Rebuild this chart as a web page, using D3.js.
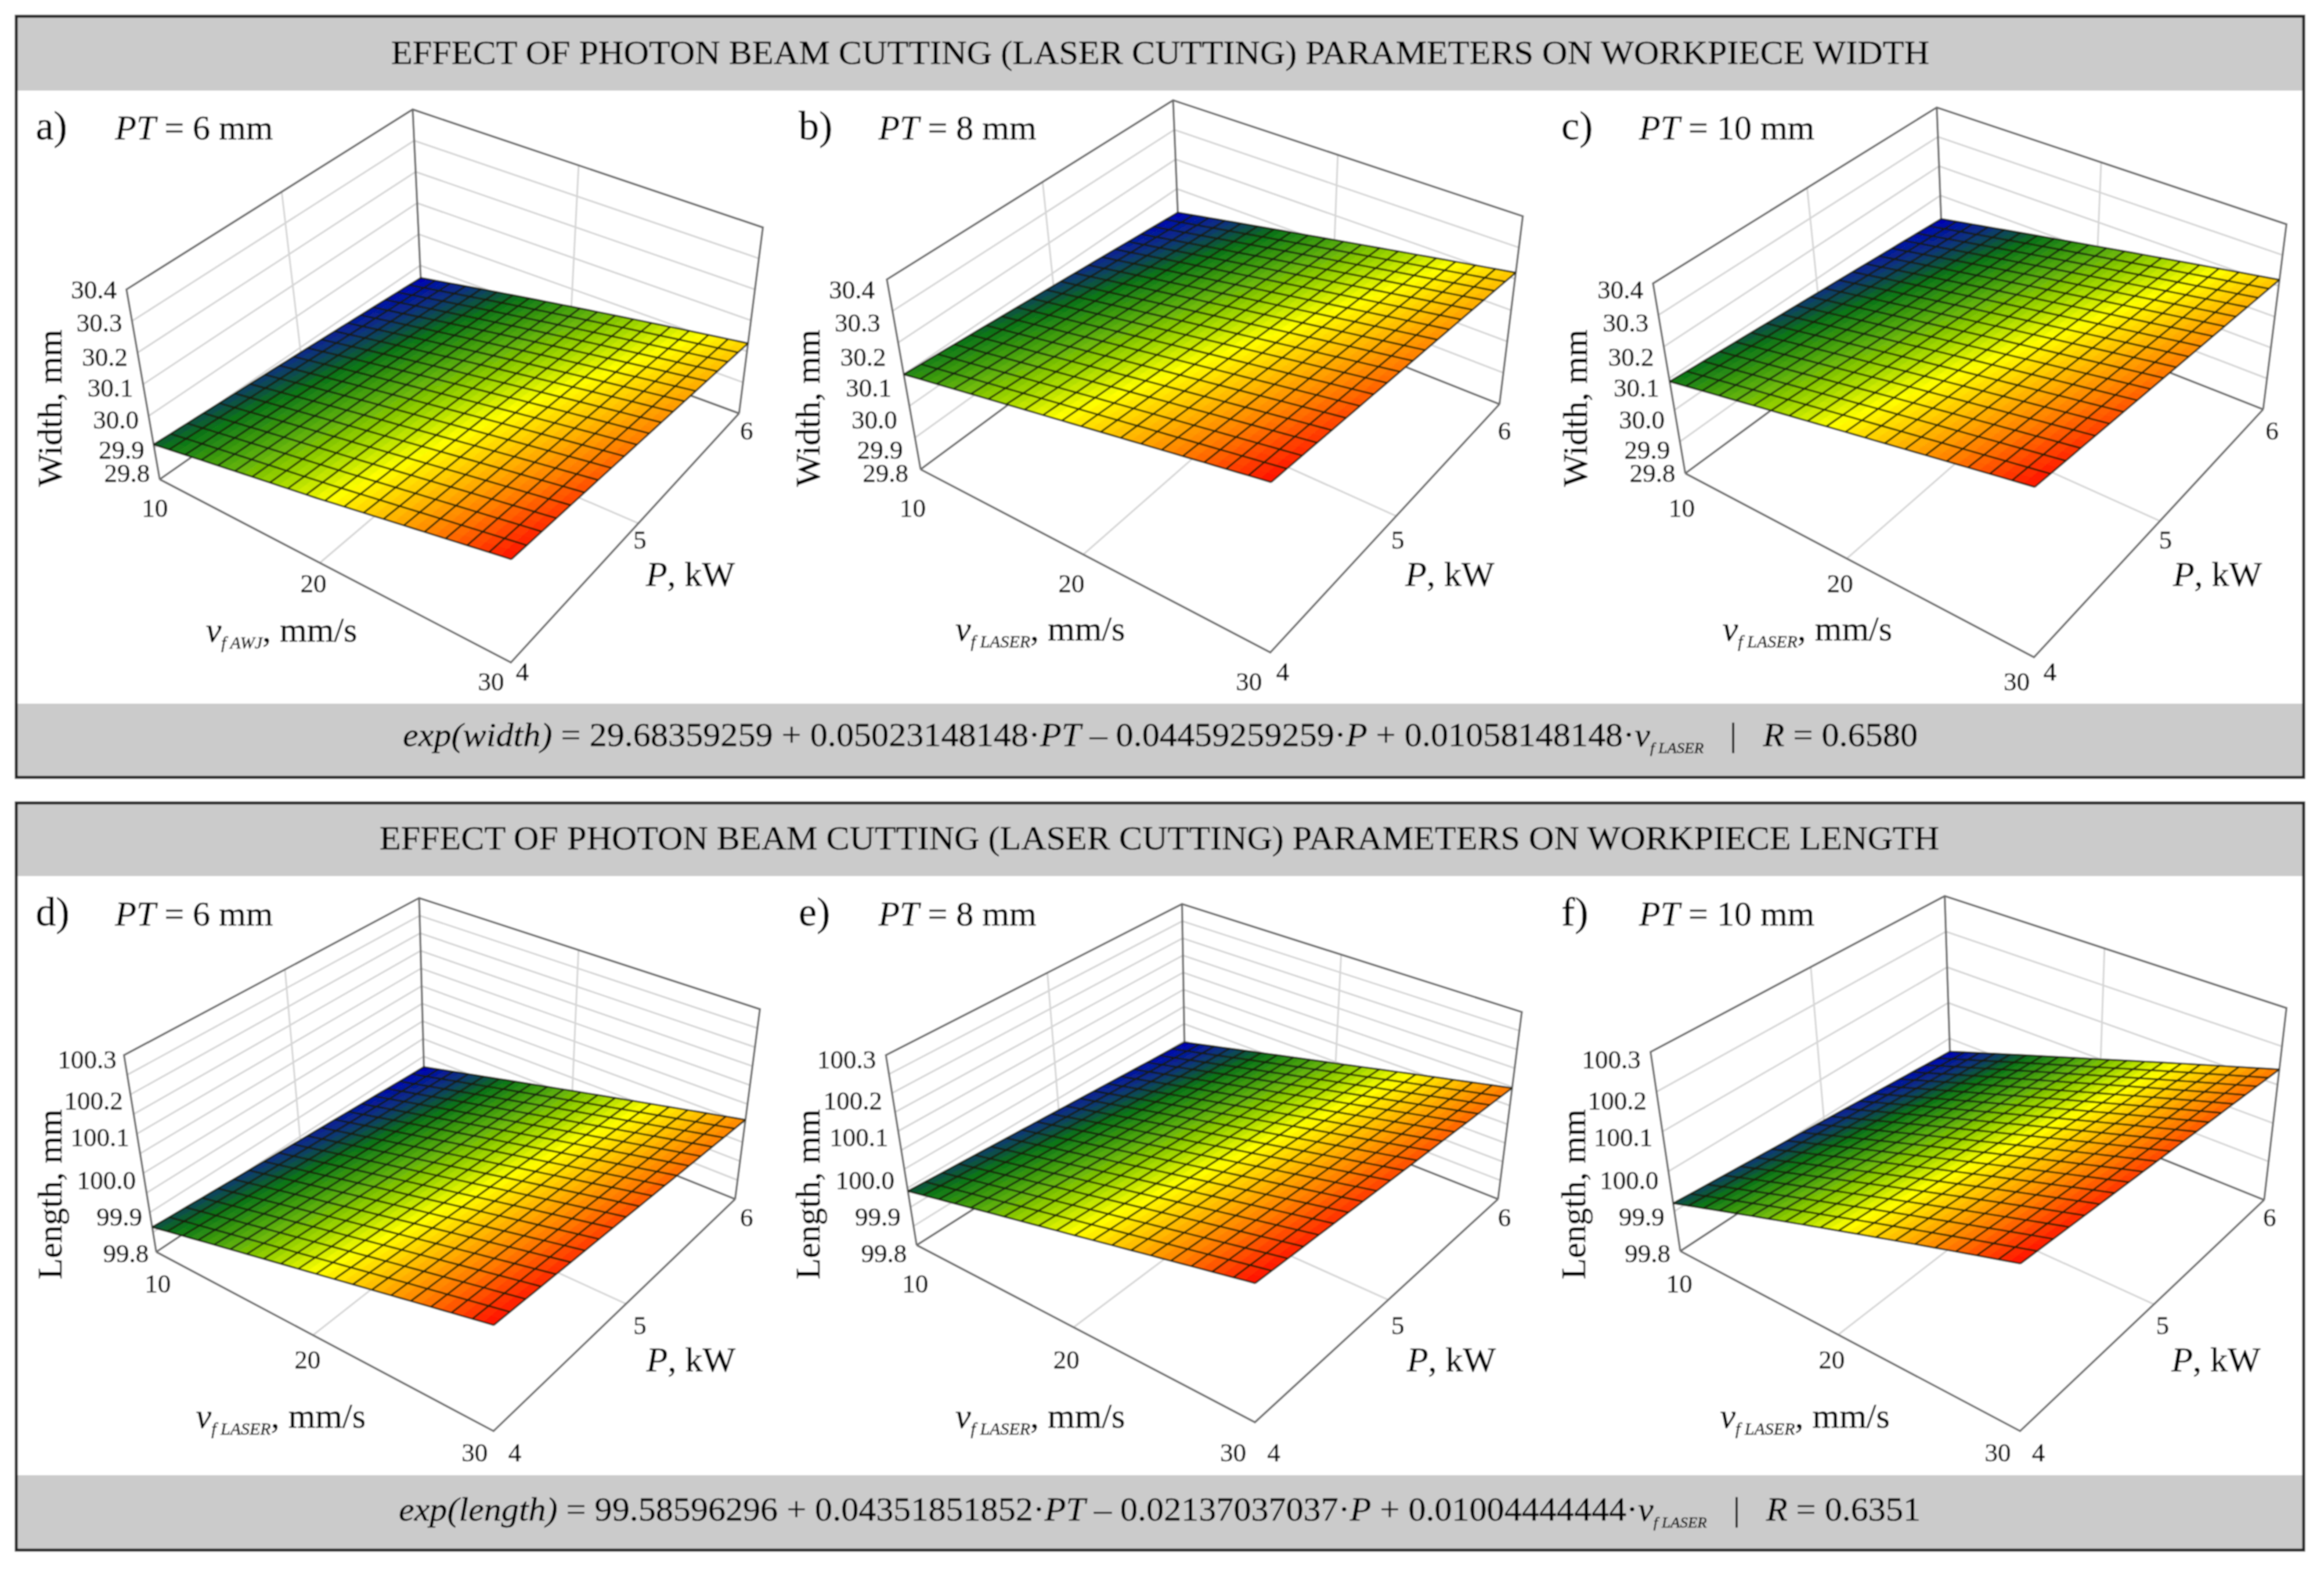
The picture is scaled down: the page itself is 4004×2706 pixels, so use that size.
<!DOCTYPE html>
<html>
<head>
<meta charset="utf-8">
<script src="https://cdnjs.cloudflare.com/ajax/libs/d3/7.8.5/d3.min.js"></script>
<style>
  body { margin: 0; background: #fff; }
  text { font-family: "Liberation Serif", serif; fill: #000; stroke: #000; stroke-width: 0.5; }
</style>
</head>
<body>
<div id="chart"></div>
<script>
var width = 4004
var height = 2706

// axis ticks
var vTicks = [10, 20, 30]
var pTicks = [4, 5, 6]
var widthTicks = [29.8, 29.9, 30.0, 30.1, 30.2, 30.3, 30.4]
var lengthTicks = [99.8, 99.9, 100.0, 100.1, 100.2, 100.3]
var lengthGridFine = [99.8, 99.85, 99.9, 99.95, 100.0, 100.05, 100.1, 100.15, 100.2, 100.25, 100.3]

// surface heights, rows are P = 4, 5, 6 and columns v = 10, 20, 30
var widthPT6 = [[29.91, 30.00, 30.10], [29.885, 29.974, 30.063], [29.86, 29.943, 30.026]]
var widthPT8 = [[30.10, 30.20, 30.30], [30.06, 30.16, 30.26], [30.02, 30.12, 30.22]]
var widthPT10 = [[30.09, 30.195, 30.30], [30.055, 30.158, 30.26], [30.02, 30.12, 30.22]]
var lengthPT6 = [[99.863, 99.956, 100.05], [99.841, 99.935, 100.03], [99.82, 99.915, 100.009]]
var lengthPT8 = [[99.942, 100.037, 100.133], [99.919, 100.017, 100.115], [99.896, 99.996, 100.097]]
var lengthPT10 = [[99.92, 100.055, 100.19], [99.892, 100.028, 100.165], [99.863, 100.0, 100.14]]

var widthLabelY = [993, 935, 860, 780, 703, 618, 535]
var lengthLabelY = [985, 893, 802, 695, 603, 500]

// box corners etc. are in crop coordinates (1568 = crop size), ox/oy is the crop origin in the page
var panels = [
  {name: "a)", pt: "6", values: widthPT6, ticks: widthTicks, grid: widthTicks, zTitle: "Width, mm", sub: "f AWJ", labelY: widthLabelY, labelOff: 17,
   ox: 0, oy: 130, L: [322, 1010], F: [1030, 1468], R: [1490, 845], B: [850, 553], TL: [255, 535], TF: [1032, 952], TR: [1538, 380], TB: [832, 85],
   nameX: 72, ptX: 232, txtY: 160, vLab: [[312, 1080], [632, 1270], [990, 1515]], pLab: [[1053, 1490], [1290, 1160], [1505, 888]], zTitleAt: [100, 832], pTitleAt: [1392, 1245], vTitleAt: [415, 1415]},
  {name: "b)", pt: "8", values: widthPT8, ticks: widthTicks, grid: widthTicks, zTitle: "Width, mm", sub: "f LASER", labelY: widthLabelY, labelOff: 21,
   ox: 1340, oy: 130, L: [288, 985], F: [993, 1443], R: [1455, 822], B: [812, 505], TL: [220, 510], TF: [995, 932], TR: [1502, 352], TB: [797, 62],
   nameX: 42, ptX: 203, txtY: 160, vLab: [[272, 1080], [592, 1270], [950, 1515]], pLab: [[1018, 1490], [1250, 1160], [1465, 888]], zTitleAt: [60, 832], pTitleAt: [1355, 1245], vTitleAt: [358, 1412]},
  {name: "c)", pt: "10", values: widthPT10, ticks: widthTicks, grid: widthTicks, zTitle: "Width, mm", sub: "f LASER", labelY: widthLabelY, labelOff: 17,
   ox: 2660, oy: 130, L: [285, 995], F: [988, 1455], R: [1450, 835], B: [806, 520], TL: [220, 520], TF: [990, 944], TR: [1497, 372], TB: [792, 80],
   nameX: 35, ptX: 192, txtY: 160, vLab: [[278, 1080], [597, 1270], [953, 1515]], pLab: [[1020, 1490], [1253, 1160], [1468, 888]], zTitleAt: [62, 832], pTitleAt: [1358, 1245], vTitleAt: [360, 1412]},
  {name: "d)", pt: "6", values: lengthPT6, ticks: lengthTicks, grid: lengthGridFine, zTitle: "Length, mm", sub: "f LASER", labelY: lengthLabelY, labelOff: 13,
   ox: 0, oy: 1480, L: [315, 982], F: [995, 1430], R: [1482, 850], B: [855, 537], TL: [250, 490], TF: [996, 900], TR: [1532, 375], TB: [845, 97],
   nameX: 72, ptX: 232, txtY: 165, vLab: [[318, 1060], [620, 1250], [957, 1482]], pLab: [[1038, 1482], [1290, 1165], [1505, 895]], zTitleAt: [100, 838], pTitleAt: [1393, 1250], vTitleAt: [395, 1422]},
  {name: "e)", pt: "8", values: lengthPT8, ticks: lengthTicks, grid: lengthGridFine, zTitle: "Length, mm", sub: "f LASER", labelY: lengthLabelY, labelOff: 17,
   ox: 1340, oy: 1480, L: [280, 965], F: [962, 1408], R: [1452, 850], B: [821, 540], TL: [218, 490], TF: [963, 886], TR: [1500, 382], TB: [815, 112],
   nameX: 42, ptX: 203, txtY: 165, vLab: [[277, 1060], [582, 1250], [918, 1482]], pLab: [[1000, 1482], [1250, 1165], [1465, 895]], zTitleAt: [60, 838], pTitleAt: [1358, 1250], vTitleAt: [358, 1422]},
  {name: "f)", pt: "10", values: lengthPT10, ticks: lengthTicks, grid: lengthTicks, zTitle: "Length, mm", sub: "f LASER", labelY: lengthLabelY, labelOff: 17,
   ox: 2660, oy: 1480, L: [275, 980], F: [960, 1430], R: [1452, 852], B: [820, 537], TL: [215, 482], TF: [961, 893], TR: [1497, 372], TB: [808, 92],
   nameX: 35, ptX: 192, txtY: 165, vLab: [[273, 1060], [580, 1250], [915, 1482]], pLab: [[997, 1482], [1247, 1165], [1463, 895]], zTitleAt: [58, 838], pTitleAt: [1355, 1250], vTitleAt: [355, 1422]}
]

var blocks = [
  {top: 28, bottom: 1339, titleTop: 30, titleBot: 156, eqTop: 1212, title: "EFFECT OF PHOTON BEAM CUTTING (LASER CUTTING) PARAMETERS ON WORKPIECE WIDTH",
   titleY: 110, titleX: [674, 3324], eqY: 1285, eqX: [694, 3304], eqA: "exp(width)", eqB: " = 29.68359259 + 0.05023148148\u00B7", eqC: " \u2013 0.04459259259\u00B7", eqD: " + 0.01058148148\u00B7", r: "0.6580"},
  {top: 1383, bottom: 2670, titleTop: 1385, titleBot: 1509, eqTop: 2541, title: "EFFECT OF PHOTON BEAM CUTTING (LASER CUTTING) PARAMETERS ON WORKPIECE LENGTH",
   titleY: 1463, titleX: [654, 3341], eqY: 2619, eqX: [687, 3309], eqA: "exp(length)", eqB: " = 99.58596296 + 0.04351851852\u00B7", eqC: " \u2013 0.02137037037\u00B7", eqD: " + 0.01004444444\u00B7", r: "0.6351"}
]

// mesh of the surface plot, counted off the reference
var meshCells = 19
var meshSub = 2

var colorStops = [0, 0.12, 0.2, 0.24, 0.36, 0.5, 0.61, 0.72, 0.85, 1]
var colorRange = ["#0000b8", "#0a3080", "#0a5838", "#0a7418", "#4aa40c", "#a4d800", "#ffff00", "#ffc400", "#ff7a00", "#ff1000"]

var svg = d3.select("#chart").append("svg")
  .attr("width", width)
  .attr("height", height)

var defs = svg.append("defs")
defs.append("filter").attr("id", "soft").attr("x", 0).attr("y", 0).attr("width", 1).attr("height", 1)
  .append("feGaussianBlur").attr("stdDeviation", 1.1)

var root = svg.append("g").attr("filter", "url(#soft)")
root.append("rect").attr("width", width).attr("height", height).attr("fill", "#fff")

// maps the unit square onto a quad
function quadMap(p00, p10, p11, p01) {
  var dx1 = p10[0] - p11[0], dx2 = p01[0] - p11[0], sx = p00[0] - p10[0] + p11[0] - p01[0]
  var dy1 = p10[1] - p11[1], dy2 = p01[1] - p11[1], sy = p00[1] - p10[1] + p11[1] - p01[1]
  var den = dx1 * dy2 - dx2 * dy1
  var g = (sx * dy2 - dx2 * sy) / den
  var h = (dx1 * sy - sx * dy1) / den
  var a = p10[0] - p00[0] + g * p10[0], b = p01[0] - p00[0] + h * p01[0]
  var d = p10[1] - p00[1] + g * p10[1], e = p01[1] - p00[1] + h * p01[1]
  return function(u, w) {
    var q = g * u + h * w + 1
    return [(a * u + b * w + p00[0]) / q, (d * u + e * w + p00[1]) / q]
  }
}

blocks.forEach(function(b) {
  root.append("rect").attr("x", 30).attr("y", b.titleTop).attr("width", 3938).attr("height", b.titleBot - b.titleTop).attr("fill", "#cbcbcb")
  root.append("rect").attr("x", 30).attr("y", b.eqTop).attr("width", 3938).attr("height", b.bottom - b.eqTop).attr("fill", "#cbcbcb")
  root.append("rect").attr("x", 28).attr("y", b.top).attr("width", 3941).attr("height", b.bottom - b.top)
    .attr("fill", "none").attr("stroke", "#222").attr("stroke-width", 5)

  root.append("text").attr("x", b.titleX[0]).attr("y", b.titleY)
    .attr("font-size", 58).attr("textLength", b.titleX[1] - b.titleX[0]).attr("lengthAdjust", "spacingAndGlyphs")
    .text(b.title)

  var eq = root.append("text").attr("x", b.eqX[0]).attr("y", b.eqY).attr("font-size", 58)
    .attr("textLength", b.eqX[1] - b.eqX[0]).attr("lengthAdjust", "spacingAndGlyphs")
  eq.append("tspan").attr("font-style", "italic").text(b.eqA)
  eq.append("tspan").text(b.eqB)
  eq.append("tspan").attr("font-style", "italic").text("PT")
  eq.append("tspan").text(b.eqC)
  eq.append("tspan").attr("font-style", "italic").text("P")
  eq.append("tspan").text(b.eqD)
  eq.append("tspan").attr("font-style", "italic").text("v")
  eq.append("tspan").attr("font-style", "italic").attr("font-size", 26).attr("dy", 12).text("f LASER")
  eq.append("tspan").attr("dy", -12).text("\u00A0\u00A0\u00A0|\u00A0\u00A0\u00A0")
  eq.append("tspan").attr("font-style", "italic").text("R")
  eq.append("tspan").text(" = " + b.r)
})

panels.forEach(function(p) {
  var cx = d3.scaleLinear().domain([0, 1568]).range([p.ox, p.ox + 1340])
  var cy = d3.scaleLinear().domain([0, 1568]).range([p.oy, p.oy + 1080])
  var pg = function(c) { return [cx(c[0]), cy(c[1])] }

  var uScale = d3.scaleLinear().domain([10, 30]).range([0, 1])
  var wScale = d3.scaleLinear().domain([4, 6]).range([0, 1])
  var zScale = d3.scaleLinear().domain(d3.extent(p.ticks)).range([0, 1])
  var floorMap = quadMap(pg(p.L), pg(p.F), pg(p.R), pg(p.B))
  var topMap = quadMap(pg(p.TL), pg(p.TF), pg(p.TR), pg(p.TB))

  var project = function(v, P, z) {
    var a = floorMap(uScale(v), wScale(P)), b = topMap(uScale(v), wScale(P)), t = zScale(z)
    return [a[0] + (b[0] - a[0]) * t, a[1] + (b[1] - a[1]) * t]
  }

  var rowScales = p.values.map(function(r) { return d3.scaleLinear().domain(vTicks).range(r) })
  var surf = function(v, P) {
    return d3.scaleLinear().domain(pTicks).range(rowScales.map(function(s) { return s(v) }))(P)
  }

  var tScale = d3.scaleLinear().domain(d3.extent(p.values.flat())).range([0, 1])
  var color = d3.scaleLinear().domain(colorStops).range(colorRange)

  var g = root.append("g")
  var line = d3.line()
  var zMin = p.ticks[0], zMax = p.ticks[p.ticks.length - 1]

  // light grid on walls and floor
  var grid = g.append("g").attr("fill", "none").attr("stroke", "#d6d6d6").attr("stroke-width", 3)
  p.grid.slice(1, -1).forEach(function(z) {
    grid.append("path").attr("d", line([project(10, 4, z), project(10, 6, z), project(30, 6, z)]))
  })
  grid.append("path").attr("d", line([project(10, 5, zMin), project(10, 5, zMax)]))
  grid.append("path").attr("d", line([project(20, 6, zMin), project(20, 6, zMax)]))
  grid.append("path").attr("d", line([project(10, 5, zMin), project(30, 5, zMin)]))
  grid.append("path").attr("d", line([project(20, 4, zMin), project(20, 6, zMin)]))

  // box edges
  var edge = g.append("g").attr("fill", "none").attr("stroke", "#6e6e6e").attr("stroke-width", 3.5)
  var boxLines = [
    [[10, 4, zMin], [10, 4, zMax], [10, 6, zMax], [30, 6, zMax], [30, 6, zMin]],
    [[10, 4, zMin], [30, 4, zMin], [30, 6, zMin]],
    [[10, 4, zMin], [10, 6, zMin], [30, 6, zMin]],
    [[10, 6, zMin], [10, 6, zMax]]
  ]
  boxLines.forEach(function(l) {
    edge.append("path").attr("d", line(l.map(function(q) { return project(q[0], q[1], q[2]) })))
  })

  // coloured cells, subdivided so that the shading is smooth
  var vAt = d3.scaleLinear().domain([0, meshCells * meshSub]).range([10, 30])
  var pAt = d3.scaleLinear().domain([0, meshCells * meshSub]).range([4, 6])
  var steps = d3.range(meshCells * meshSub + 1)
  var cells = []
  steps.slice(1).forEach(function(i) {
    steps.slice(1).forEach(function(j) {
      cells.push({v0: vAt(i - 1), v1: vAt(i), p0: pAt(j - 1), p1: pAt(j)})
    })
  })
  var cellColor = function(c) { return color(tScale(surf((c.v0 + c.v1) / 2, (c.p0 + c.p1) / 2))) }
  g.append("g").selectAll("path").data(cells).enter().append("path")
    .attr("d", function(c) {
      return line([[c.v0, c.p0], [c.v1, c.p0], [c.v1, c.p1], [c.v0, c.p1]].map(function(q) {
        return project(q[0], q[1], surf(q[0], q[1]))
      })) + "Z"
    })
    .attr("fill", cellColor)
    .attr("stroke", cellColor)
    .attr("stroke-width", 0.8)

  // mesh lines
  var mesh = g.append("g").attr("fill", "none").attr("stroke", "#141a08").attr("stroke-opacity", 0.78).attr("stroke-width", 3.2)
  steps.filter(function(i) { return i % meshSub == 0 }).forEach(function(i) {
    mesh.append("path").attr("d", line(steps.map(function(j) { return project(vAt(i), pAt(j), surf(vAt(i), pAt(j))) })))
    mesh.append("path").attr("d", line(steps.map(function(j) { return project(vAt(j), pAt(i), surf(vAt(j), pAt(i))) })))
  })

  // tick labels
  p.ticks.forEach(function(z, i) {
    g.append("text").attr("x", project(10, 4, z)[0] - p.labelOff).attr("y", cy(p.labelY[i])).attr("dy", "0.35em")
      .attr("text-anchor", "end").attr("font-size", 45).text(z.toFixed(1))
  })
  vTicks.forEach(function(v, i) {
    g.append("text").attr("x", cx(p.vLab[i][0])).attr("y", cy(p.vLab[i][1])).attr("dy", "0.35em")
      .attr("text-anchor", "middle").attr("font-size", 45).text(v)
  })
  pTicks.forEach(function(v, i) {
    g.append("text").attr("x", cx(p.pLab[i][0])).attr("y", cy(p.pLab[i][1])).attr("dy", "0.35em")
      .attr("text-anchor", "middle").attr("font-size", 45).text(v)
  })

  // axis titles
  g.append("text").attr("transform", "translate(" + cx(p.zTitleAt[0]) + "," + cy(p.zTitleAt[1]) + ") rotate(-90)")
    .attr("dy", "0.35em").attr("text-anchor", "middle").attr("font-size", 60).text(p.zTitle)

  var pt = g.append("text").attr("x", cx(p.pTitleAt[0])).attr("y", cy(p.pTitleAt[1])).attr("dy", "0.35em")
    .attr("text-anchor", "middle").attr("font-size", 60)
  pt.append("tspan").attr("font-style", "italic").text("P")
  pt.append("tspan").text(", kW")

  var vt = g.append("text").attr("x", cx(p.vTitleAt[0])).attr("y", cy(p.vTitleAt[1])).attr("font-size", 60)
  vt.append("tspan").attr("font-style", "italic").text("v")
  vt.append("tspan").attr("font-style", "italic").attr("font-size", 30).attr("dy", 12).text(p.sub)
  vt.append("tspan").attr("dy", -12).text(", mm/s")

  // panel letter and plate thickness
  g.append("text").attr("x", cx(p.nameX)).attr("y", cy(p.txtY)).attr("font-size", 70).text(p.name)
  var tt = g.append("text").attr("x", cx(p.ptX)).attr("y", cy(p.txtY)).attr("font-size", 60)
  tt.append("tspan").attr("font-style", "italic").text("PT")
  tt.append("tspan").text(" = " + p.pt + " mm")
})
</script>
</body>
</html>
